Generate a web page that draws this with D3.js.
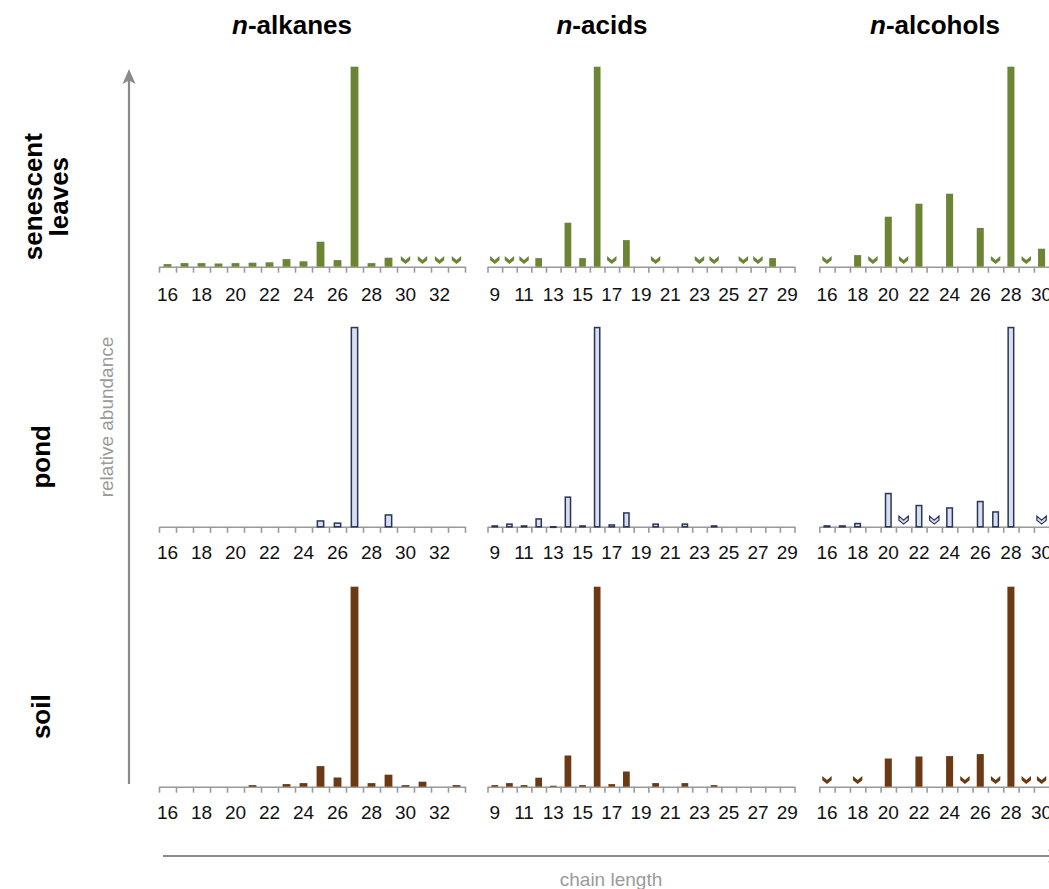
<!DOCTYPE html>
<meta charset="utf-8">
<style>

body {
  margin: 0;
  background: #fff;
}

svg {
  display: block;
  font-family: "Liberation Sans", Arial, sans-serif;
}

.title, .rowlab {
  font-size: 26px;
  font-weight: bold;
  fill: #000;
}

.labels text {
  font-size: 19px;
  fill: #111;
}

.edges path, .edges line {
  stroke: #9a9a9a;
  stroke-width: 1.6;
}

.guide {
  font-size: 19px;
  fill: #9a9a9a;
}

</style>
<svg width="1049" height="889"></svg>
<script src="https://d3js.org/d3.v7.min.js"></script>
<script>

// chain lengths on each x axis
var alkaneChains = [16, 17, 18, 19, 20, 21, 22, 23, 24, 25, 26, 27, 28, 29, 30, 31, 32, 33];
var acidChains = [9, 10, 11, 12, 13, 14, 15, 16, 17, 18, 19, 20, 21, 22, 23, 24, 25, 26, 27, 28, 29];
var alcoholChains = [16, 17, 18, 19, 20, 21, 22, 23, 24, 25, 26, 27, 28, 29, 30, 31, 32, 33, 34];

// tick labels (alcohol axis runs off the right edge)
var alkaneTicks = [16, 18, 20, 22, 24, 26, 28, 30, 32];
var acidTicks = [9, 11, 13, 15, 17, 19, 21, 23, 25, 27, 29];
var alcoholTicks = [16, 18, 20, 22, 24, 26, 28, 30];

// relative abundance (% of the largest), null = nothing drawn
var leavesAlkanes = [1.3, 1.8, 1.8, 1.6, 1.8, 2, 2.2, 3.8, 2.7, 12.5, 3.3, 100, 1.8, 4.5, null, null, null, null];
var leavesAcids = [null, null, null, 4.3, null, 22, 4.3, 100, null, 13.3, null, null, null, null, null, null, null, null, null, 4.3, null];
var leavesAlcohols = [null, null, 5.8, null, 25, null, 31.5, null, 36.5, null, 19.4, null, 100, null, 9, null, null, null, null];

var pondAlkanes = [null, null, null, null, null, null, null, null, null, 3.3, 2.2, 100, null, 6.3, null, null, null, null];
var pondAcids = [0.8, 1.7, 0.8, 4.3, 0.4, 15.2, 0.8, 100, 1.3, 7.3, null, 1.7, null, 1.7, null, 0.8, null, null, null, null, null];
var pondAlcohols = [0.8, 0.8, 2, null, 17, null, 11, null, 9.8, null, 13, 7.8, 100, null, null, null, null, null, null];

var soilAlkanes = [null, null, null, null, null, 0.8, null, 1.3, 1.8, 10.3, 4.6, 100, 1.8, 6, 0.8, 2.5, null, 0.8];
var soilAcids = [0.8, 1.8, 0.8, 4.5, 0.5, 15.6, 0.8, 100, 1.3, 7.6, null, 1.8, null, 1.8, null, 0.8, null, null, null, null, null];
var soilAlcohols = [null, null, null, null, 14.1, null, 15.1, null, 15.3, null, 16.3, null, 100, null, null, null, null, null, null];

// chain lengths marked below detection (chevrons)
var leavesAlkanesTrace = [30, 31, 32, 33];
var leavesAcidsTrace = [9, 10, 11, 17, 20, 23, 24, 26, 27];
var leavesAlcoholsTrace = [16, 19, 21, 27, 29];
var pondAlkanesTrace = [];
var pondAcidsTrace = [];
var pondAlcoholsTrace = [21, 23, 30];
var soilAlkanesTrace = [];
var soilAcidsTrace = [];
var soilAlcoholsTrace = [16, 18, 25, 27, 29, 30];

var compounds = ["alkanes", "acids", "alcohols"];
var samples = ["senescent leaves", "pond", "soil"];

var svg = d3.select("svg");

// layout
var colX0 = [159, 487.5, 819.3],
    colStep = [17, 14.62, 15.33],
    rowBase = [266.7, 526.8, 786.7],
    peakHeight = 200;

var cols = [
  {chains: alkaneChains, ticks: alkaneTicks, titleX: 292},
  {chains: acidChains, ticks: acidTicks, titleX: 602},
  {chains: alcoholChains, ticks: alcoholTicks, titleX: 935}
];

var rows = [
  {fill: "#6c8535", stroke: "none", lines: ["senescent", "leaves"], pad: 21,
   values: [leavesAlkanes, leavesAcids, leavesAlcohols],
   trace: [leavesAlkanesTrace, leavesAcidsTrace, leavesAlcoholsTrace]},
  {fill: "#d6dff0", stroke: "#2c3556", lines: ["pond"], pad: 19,
   values: [pondAlkanes, pondAcids, pondAlcohols],
   trace: [pondAlkanesTrace, pondAcidsTrace, pondAlcoholsTrace]},
  {fill: "#6b3913", stroke: "none", lines: ["soil"], pad: 19,
   values: [soilAlkanes, soilAcids, soilAlcohols],
   trace: [soilAlkanesTrace, soilAcidsTrace, soilAlcoholsTrace]}
];

var chevron = "M-4.7,-10.7L0,-6.7L4.7,-10.7L4.7,-6.5L0,-2.7L-4.7,-6.5Z";

// column titles
cols.forEach(function(c, j) {
  var t = svg.append("text")
      .attr("class", "title")
      .attr("x", c.titleX)
      .attr("y", 34)
      .attr("text-anchor", "middle");
  t.append("tspan").style("font-style", "italic").text("n");
  t.append("tspan").text("-" + compounds[j]);
});

rows.forEach(function(r, i) {
  var base = rowBase[i];
  var y = d3.scaleLinear().domain([0, 100]).range([base, base - peakHeight]);

  // row label
  var cy = base - 70;
  var lab = svg.append("text")
      .attr("class", "rowlab")
      .attr("text-anchor", "middle")
      .attr("transform", "translate(" + (r.lines.length > 1 ? 42 : 50) + "," + cy + ") rotate(-90)");
  r.lines.forEach(function(s, k) {
    lab.append("tspan").attr("x", 0).attr("y", k * 25.5).text(s);
  });

  cols.forEach(function(c, j) {
    var n = c.chains.length,
        x0 = colX0[j],
        x1 = x0 + colStep[j] * n;

    var x = d3.scaleBand().domain(c.chains).range([x0, x1]).padding(0);
    var edge = d3.scaleLinear().domain([0, n]).range([x0, x1]);
    var bw = x.bandwidth();

    // axis with ticks at band edges
    svg.append("g")
        .attr("class", "edges")
        .attr("transform", "translate(0," + base + ")")
        .call(d3.axisBottom(edge).tickValues(d3.range(n + 1)).tickSize(6).tickSizeOuter(0).tickFormat(""));

    // labels under band centres
    svg.append("g")
        .attr("class", "labels")
        .attr("transform", "translate(0," + base + ")")
        .call(d3.axisBottom(x).tickValues(c.ticks).tickSize(0).tickPadding(r.pad))
        .call(function(g) { g.select(".domain").remove(); })
        .selectAll("text").attr("font-family", null).attr("font-size", null);

    var data = c.chains.map(function(ch, k) { return {ch: ch, v: r.values[j][k]}; })
        .filter(function(d) { return d.v != null; });

    var sw = r.stroke === "none" ? 0 : 1.5;
    svg.append("g").selectAll("rect")
      .data(data)
      .join("rect")
        .attr("x", function(d) { return x(d.ch) + bw * 0.27 + sw / 2; })
        .attr("width", bw * 0.46 - sw)
        .attr("y", function(d) { return y(d.v) + sw / 2; })
        .attr("height", function(d) { return Math.max(0.6, base - y(d.v) - sw / 2); })
        .attr("fill", r.fill)
        .attr("stroke", r.stroke)
        .attr("stroke-width", sw);

    svg.append("g").selectAll("path")
      .data(r.trace[j])
      .join("path")
        .attr("d", chevron)
        .attr("transform", function(d) { return "translate(" + (x(d) + bw / 2) + "," + base + ")"; })
        .attr("fill", r.fill)
        .attr("stroke", r.stroke)
        .attr("stroke-width", 1.2)
        .attr("stroke-linejoin", "miter");
  });
});

// vertical guide arrow
svg.append("line")
    .attr("x1", 129).attr("x2", 129)
    .attr("y1", 784).attr("y2", 80)
    .attr("stroke", "#8a8a8a").attr("stroke-width", 2.2);
svg.append("path")
    .attr("d", "M129,69L135.5,84L129,80.5L122.5,84Z")
    .attr("fill", "#8a8a8a");
svg.append("text")
    .attr("class", "guide")
    .attr("text-anchor", "middle")
    .attr("transform", "translate(113,417) rotate(-90)")
    .text("relative abundance");

// horizontal guide arrow
svg.append("line")
    .attr("x1", 163).attr("x2", 1055)
    .attr("y1", 856).attr("y2", 856)
    .attr("stroke", "#8a8a8a").attr("stroke-width", 2.2);
svg.append("path")
    .attr("d", "M1063,856L1048,849.5L1051.5,856L1048,862.5Z")
    .attr("fill", "#8a8a8a");
svg.append("text")
    .attr("class", "guide")
    .attr("text-anchor", "middle")
    .attr("x", 611)
    .attr("y", 886)
    .text("chain length");

</script>
